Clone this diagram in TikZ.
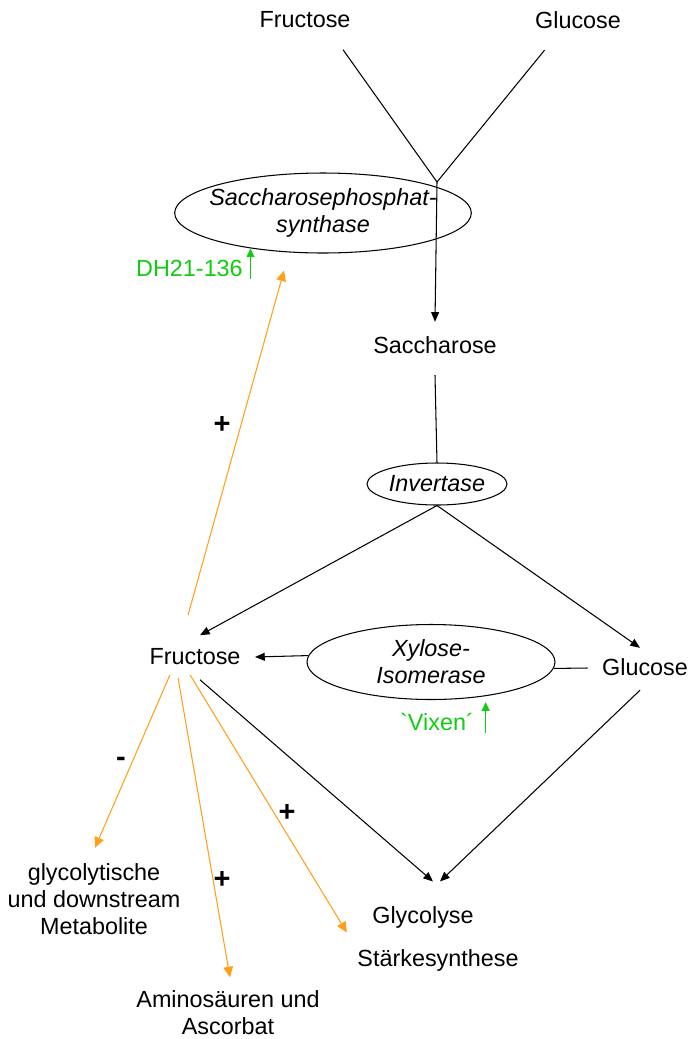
\documentclass[tikz,border=0pt]{standalone}
\usepackage{fontspec}
\setmainfont{Liberation Sans}
\newfontfamily\quotefont{Liberation Sans}[Ligatures=TeXOff]
\usetikzlibrary{arrows.meta, shapes.geometric}
\definecolor{boost}{HTML}{FF9F1A}
\definecolor{mutant}{HTML}{11CC11}

\begin{document}
\begin{tikzpicture}[
    x=0.02cm, y=-0.02cm,
    >={Triangle[length=5.5pt,width=4.5pt]},
    metab/.style={inner sep=3pt, align=center, font=\fontsize{13.3}{15.4}\selectfont},
    enzyme/.style={draw, ellipse, inner sep=0pt, align=center, line width=0.6pt,
                   font=\fontsize{13.3}{15.4}\selectfont\itshape},
    link/.style={line width=0.6pt},
    flux/.style={->, line width=0.6pt},
    effect/.style={-{Triangle[length=6pt,width=5.5pt]}, draw=boost, line width=0.6pt},
    uparrow/.style={-{Triangle[length=5pt,width=4.5pt]}, draw=mutant, line width=0.8pt},
    variety/.style={metab, text=mutant},
    sign/.style={font=\fontsize{16.5}{18}\selectfont\bfseries},
]
\useasboundingbox (0,0) rectangle (688,1039);

% sucrose synthesis
\node[metab] (fruT) at (305,20) {Fructose};
\node[metab] (glcT) at (578,20) {Glucose};
\coordinate (jn) at (437,182);
\node[enzyme, inner xsep=-5pt, minimum width=5.86cm, minimum height=1.6cm] (sps) at (323,213) {Saccharosephosphat-\\synthase};
\node[metab] (sac) at (435,345) {Saccharose};
\node[variety] (dh) at (189.5,268) {DH21-136};

\draw[link] ([shift={(-13,16)}]fruT.south east) -- (jn);
\draw[link] ([shift={(15,16)}]glcT.south west) -- (jn);
\draw[flux] (jn) -- ([shift={(0,-9)}]sac.north);
\draw[uparrow] ([shift={(0,-3)}]sps.206.6 |- dh.south) -- (sps.206.6);

% cleavage
\node[enzyme, minimum width=2.8cm, minimum height=0.84cm] (inv) at (437,484) {Invertase};
\node[metab] (fru) at (195,657) {Fructose};
\node[metab] (glc) at (645,667) {Glucose};
\node[enzyme, minimum width=4.96cm, minimum height=1.5cm] (xyl) at (431,662) {Xylose-\\Isomerase};
\node[variety] (vix) at (437,722) {\quotefont`Vixen´};

\draw[link] ([shift={(0,16)}]sac.south) -- (inv.north);
\draw[flux] (inv.south) -- ([shift={(5,-8)}]fru.north);
\draw[flux] (inv.south) -- ([shift={(-5,-5)}]glc.north);
\draw[flux] (xyl.177) -- ([shift={(9,0)}]fru.east);
\draw[link] ([shift={(-9,1)}]glc.west) -- (xyl.-3);
\draw[uparrow] ([shift={(0,-3)}]xyl.-32 |- vix.south) -- ([shift={(0,6)}]xyl.-32);

% downstream
\node[metab] (glyco) at (423,917) {Glycolyse};
\node[metab] (staerke) at (438,960) {Stärkesynthese};
\node[metab] (meta) at (94,899) {glycolytische\\und downstream\\Metabolite};
\node[metab] (amino) at (228,1013) {Aminosäuren und\\Ascorbat};

\draw[flux] ([shift={(5,9)}]fru.south) -- ([shift={(10,-19)}]glyco.north);
\draw[flux] ([shift={(-5,9)}]glc.south) -- ([shift={(17,-19)}]glyco.north);

% regulation by fructose
\draw[effect] ([shift={(-7,-28)}]fru.north) -- ([shift={(-39,17)}]sps.south);
\draw[effect] ([shift={(-25,4)}]fru.south) -- ([shift={(1,-10)}]meta.north);
\draw[effect] ([shift={(-17,7)}]fru.south) -- ([shift={(2,-8)}]amino.north);
\draw[effect] ([shift={(-5,4)}]fru.south) -- ([shift={(-5,-11)}]staerke.north west);

\node[sign] (s1) at (222,425) {+};
\node[sign] (s2) at (121,762) {-};
\node[sign] (s3) at (287,813) {+};
\node[sign] (s4) at (222,880) {+};

\end{tikzpicture}
\end{document}
